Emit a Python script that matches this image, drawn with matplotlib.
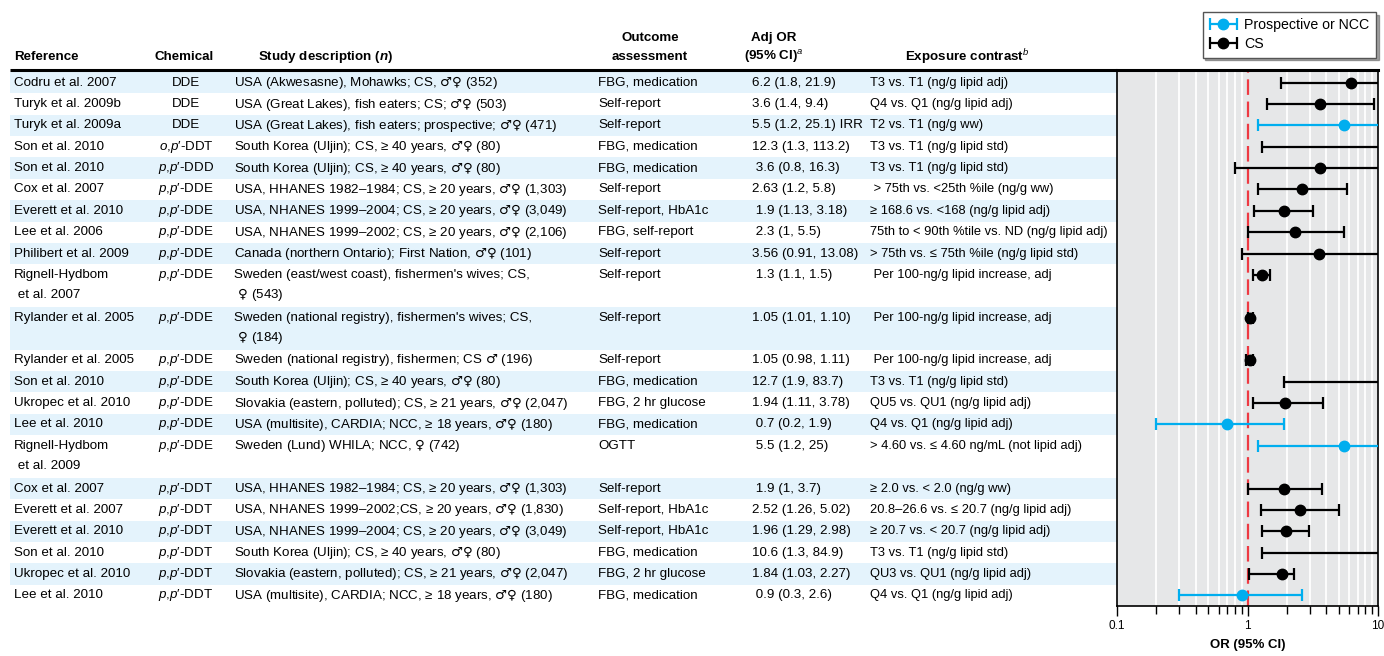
import numpy as np
import matplotlib
matplotlib.use("Agg")
import matplotlib.pyplot as plt
from matplotlib.patches import Rectangle
from matplotlib.legend_handler import HandlerErrorbar

plt.rcParams["font.family"] = ["Liberation Sans", "DejaVu Sans"]
plt.rcParams["mathtext.fontset"] = "custom"
plt.rcParams["mathtext.rm"] = "Liberation Sans"
plt.rcParams["mathtext.it"] = "Liberation Sans:italic"
plt.rcParams["mathtext.bf"] = "Liberation Sans:bold"
plt.rcParams["mathtext.bfit"] = "Liberation Sans:bold:italic"
plt.rcParams["mathtext.sf"] = "DejaVu Sans"

# ---- table data ----
references = [
    "Codru et al. 2007", "Turyk et al. 2009b", "Turyk et al. 2009a",
    "Son et al. 2010", "Son et al. 2010", "Cox et al. 2007",
    "Everett et al. 2010", "Lee et al. 2006", "Philibert et al. 2009",
    "Rignell-Hydbom\n et al. 2007", "Rylander et al. 2005", "Rylander et al. 2005",
    "Son et al. 2010", "Ukropec et al. 2010", "Lee et al. 2010",
    "Rignell-Hydbom\n et al. 2009", "Cox et al. 2007", "Everett et al. 2007",
    "Everett et al. 2010", "Son et al. 2010", "Ukropec et al. 2010",
    "Lee et al. 2010",
]
chemicals = (["DDE"] * 3
             + [r"$\mathit{o{,}p}$′-DDT", r"$\mathit{p{,}p}$′-DDD"]
             + [r"$\mathit{p{,}p}$′-DDE"] * 11
             + [r"$\mathit{p{,}p}$′-DDT"] * 6)
descriptions = [
    "USA (Akwesasne), Mohawks; CS, ♂♀ (352)",
    "USA (Great Lakes), fish eaters; CS; ♂♀ (503)",
    "USA (Great Lakes), fish eaters; prospective; ♂♀ (471)",
    "South Korea (Uljin); CS, ≥ 40 years, ♂♀ (80)",
    "South Korea (Uljin); CS, ≥ 40 years, ♂♀ (80)",
    "USA, HHANES 1982–1984; CS, ≥ 20 years, ♂♀ (1,303)",
    "USA, NHANES 1999–2004; CS, ≥ 20 years, ♂♀ (3,049)",
    "USA, NHANES 1999–2002; CS, ≥ 20 years, ♂♀ (2,106)",
    "Canada (northern Ontario); First Nation, ♂♀ (101)",
    "Sweden (east/west coast), fishermen's wives; CS,\n ♀ (543)",
    "Sweden (national registry), fishermen's wives; CS,\n ♀ (184)",
    "Sweden (national registry), fishermen; CS ♂ (196)",
    "South Korea (Uljin); CS, ≥ 40 years, ♂♀ (80)",
    "Slovakia (eastern, polluted); CS, ≥ 21 years, ♂♀ (2,047)",
    "USA (multisite), CARDIA; NCC, ≥ 18 years, ♂♀ (180)",
    "Sweden (Lund) WHILA; NCC, ♀ (742)",
    "USA, HHANES 1982–1984; CS, ≥ 20 years, ♂♀ (1,303)",
    "USA, NHANES 1999–2002;CS, ≥ 20 years, ♂♀ (1,830)",
    "USA, NHANES 1999–2004; CS, ≥ 20 years, ♂♀ (3,049)",
    "South Korea (Uljin); CS, ≥ 40 years, ♂♀ (80)",
    "Slovakia (eastern, polluted); CS, ≥ 21 years, ♂♀ (2,047)",
    "USA (multisite), CARDIA; NCC, ≥ 18 years, ♂♀ (180)",
]
outcomes = [
    "FBG, medication", "Self-report", "Self-report", "FBG, medication",
    "FBG, medication", "Self-report", "Self-report, HbA1c", "FBG, self-report",
    "Self-report", "Self-report", "Self-report", "Self-report",
    "FBG, medication", "FBG, 2 hr glucose", "FBG, medication", "OGTT",
    "Self-report", "Self-report, HbA1c", "Self-report, HbA1c", "FBG, medication",
    "FBG, 2 hr glucose", "FBG, medication",
]
or_labels = [
    "6.2 (1.8, 21.9)", "3.6 (1.4, 9.4)", "5.5 (1.2, 25.1) IRR",
    "12.3 (1.3, 113.2)", " 3.6 (0.8, 16.3)", "2.63 (1.2, 5.8)",
    " 1.9 (1.13, 3.18)", " 2.3 (1, 5.5)", "3.56 (0.91, 13.08)",
    " 1.3 (1.1, 1.5)", "1.05 (1.01, 1.10)", "1.05 (0.98, 1.11)",
    "12.7 (1.9, 83.7)", "1.94 (1.11, 3.78)", " 0.7 (0.2, 1.9)",
    " 5.5 (1.2, 25)", " 1.9 (1, 3.7)", "2.52 (1.26, 5.02)",
    "1.96 (1.29, 2.98)", "10.6 (1.3, 84.9)", "1.84 (1.03, 2.27)",
    " 0.9 (0.3, 2.6)",
]
contrasts = [
    "T3 vs. T1 (ng/g lipid adj)", "Q4 vs. Q1 (ng/g lipid adj)",
    "T2 vs. T1 (ng/g ww)", "T3 vs. T1 (ng/g lipid std)",
    "T3 vs. T1 (ng/g lipid std)", " > 75th vs. <25th %ile (ng/g ww)",
    "≥ 168.6 vs. <168 (ng/g lipid adj)",
    "75th to < 90th %tile vs. ND (ng/g lipid adj)",
    "> 75th vs. ≤ 75th %ile (ng/g lipid std)",
    " Per 100-ng/g lipid increase, adj", " Per 100-ng/g lipid increase, adj",
    " Per 100-ng/g lipid increase, adj", "T3 vs. T1 (ng/g lipid std)",
    "QU5 vs. QU1 (ng/g lipid adj)", "Q4 vs. Q1 (ng/g lipid adj)",
    "> 4.60 vs. ≤ 4.60 ng/mL (not lipid adj)", "≥ 2.0 vs. < 2.0 (ng/g ww)",
    "20.8–26.6 vs. ≤ 20.7 (ng/g lipid adj)", "≥ 20.7 vs. < 20.7 (ng/g lipid adj)",
    "T3 vs. T1 (ng/g lipid std)", "QU3 vs. QU1 (ng/g lipid adj)",
    "Q4 vs. Q1 (ng/g lipid adj)",
]

# ---- forest data ----
or_vals = np.array([6.2, 3.6, 5.5, 12.3, 3.6, 2.63, 1.9, 2.3, 3.56, 1.3, 1.05,
                    1.05, 12.7, 1.94, 0.7, 5.5, 1.9, 2.52, 1.96, 10.6, 1.84, 0.9])
ci_low = np.array([1.8, 1.4, 1.2, 1.3, 0.8, 1.2, 1.13, 1.0, 0.91, 1.1, 1.01,
                   0.98, 1.9, 1.11, 0.2, 1.2, 1.0, 1.26, 1.29, 1.3, 1.03, 0.3])
ci_high = np.array([21.9, 9.4, 25.1, 113.2, 16.3, 5.8, 3.18, 5.5, 13.08, 1.5,
                    1.10, 1.11, 83.7, 3.78, 1.9, 25.0, 3.7, 5.02, 2.98, 84.9,
                    2.27, 2.6])
design = ["CS", "CS", "P", "CS", "CS", "CS", "CS", "CS", "CS", "CS", "CS", "CS",
          "CS", "CS", "P", "P", "CS", "CS", "CS", "CS", "CS", "P"]

BLUE = "#00aeef"
SHADE = "#e4f3fc"
FS = 9.6


def sex_symbols(s):
    # draw the sex signs with DejaVu so they come out at full size
    for sym in ("♂♀", "♀", "♂"):
        if sym in s:
            return s.replace(sym, r"$\mathsf{" + sym + "}$")
    return s


# ---- layout (pixels) ----
W, H = 1384, 656
top, bottom = 72, 606
nlines = [max(r.count("\n"), d.count("\n")) + 1 for r, d in zip(references, descriptions)]
row_h = (bottom - top) / sum(nlines)
starts = np.concatenate([[0], np.cumsum(nlines)[:-1]])
y_first = top + starts * row_h + row_h / 2
plot_left, plot_right = 1117, 1378

fig = plt.figure(figsize=(W / 100, H / 100), dpi=100)
tab = fig.add_axes([0, 0, 1, 1])
tab.set_xlim(0, W)
tab.set_ylim(H, 0)
tab.axis("off")

# alternating row shading
for i in range(len(references)):
    if i % 2 == 0:
        tab.add_patch(Rectangle((10, top + starts[i] * row_h), plot_left - 10,
                                nlines[i] * row_h, color=SHADE, lw=0, zorder=0))

tab.plot([10, plot_left], [70, 70], color="black", lw=2.2, solid_capstyle="butt")

# headers
hdr = dict(fontsize=FS, fontweight="bold", va="center")
tab.text(14, 57, "Reference", ha="left", **hdr)
tab.text(184, 57, "Chemical", ha="center", **hdr)
tab.text(326, 57, r"Study description ($\mathbfit{n}$)", ha="center", **hdr)
tab.text(650, 38, "Outcome", ha="center", **hdr)
tab.text(650, 57, "assessment", ha="center", **hdr)
tab.text(774, 38, "Adj OR", ha="center", **hdr)
tab.text(774, 57, r"(95% CI)$^{\mathit{a}}$", ha="center", **hdr)
tab.text(967, 57, r"Exposure contrast$^{\mathit{b}}$", ha="center", **hdr)

line_gap = 20
for i in range(len(references)):
    y0 = y_first[i]
    for k, s in enumerate(references[i].split("\n")):
        tab.text(14, y0 + k * line_gap, s, fontsize=FS, va="center")
    tab.text(186, y0, chemicals[i], fontsize=FS, va="center", ha="center")
    for k, s in enumerate(descriptions[i].split("\n")):
        tab.text(234, y0 + k * line_gap, sex_symbols(s), fontsize=FS, va="center")
    tab.text(598, y0, outcomes[i], fontsize=FS, va="center")
    tab.text(752, y0, or_labels[i], fontsize=FS, va="center")
    tab.text(870, y0, contrasts[i], fontsize=9.3, va="center")

# ---- forest plot ----
ax = fig.add_axes([plot_left / W, 1 - bottom / H, (plot_right - plot_left) / W,
                   (bottom - 70) / H])
ax.set_facecolor("#e6e7e8")
ax.set_xscale("log")
ax.set_xlim(0.1, 10)
ax.set_ylim(bottom, 70)
ax.set_yticks([])
ax.set_xticks([0.1, 1, 10])
ax.set_xticklabels(["0.1", "1", "10"])
minor = [m * d for d in (0.1, 1) for m in range(2, 10)]
ax.set_xticks(minor, minor=True)
ax.xaxis.set_minor_formatter(matplotlib.ticker.NullFormatter())
ax.tick_params(axis="x", which="major", length=7, width=1, labelsize=8.5, pad=3)
ax.tick_params(axis="x", which="minor", length=6, width=1)
for v in minor:
    ax.axvline(v, color="white", lw=1.3, zorder=1)
ax.axvline(1, color="#ee3a43", lw=1.6, dashes=(7, 3), zorder=2)
for sp in ax.spines.values():
    sp.set_linewidth(1.2)
ax.spines["top"].set_linewidth(2.2)

for kind, col, lab in [("P", BLUE, "Prospective or NCC"), ("CS", "black", "CS")]:
    idx = np.array([d == kind for d in design])
    x = or_vals[idx]
    y = y_first[idx]
    xerr = np.vstack([x - ci_low[idx], ci_high[idx] - x])
    xm = np.where(x > 10, np.nan, x)
    ax.errorbar(xm, y, xerr=xerr, fmt="o", color=col, ms=7.5, lw=1.6,
                capsize=4, capthick=1.6, label=lab, zorder=3)
    # bars for estimates that fall outside the axis
    for xi, yi, lo, hi in zip(x, y, ci_low[idx], ci_high[idx]):
        if xi > 10:
            ax.errorbar([lo], [yi], xerr=[[0], [hi - lo]], fmt="none", color=col,
                        lw=1.6, capsize=4, capthick=1.6, zorder=3)

ax.set_xlabel("OR (95% CI)", fontsize=9.5, fontweight="bold", labelpad=5)

leg = ax.legend(loc="upper right", bbox_to_anchor=(1376 / W, 1 - 12 / H),
                bbox_transform=fig.transFigure, fontsize=10.2, frameon=True,
                fancybox=False, shadow=True, borderaxespad=0, handlelength=2.0,
                handletextpad=0.5, borderpad=0.45, labelspacing=0.35,
                handler_map={type(ax.containers[0]): HandlerErrorbar(xerr_size=0.95)})
leg.get_frame().set_edgecolor("#555555")
leg.get_frame().set_linewidth(1.0)

fig.savefig("out.png", dpi=100)
